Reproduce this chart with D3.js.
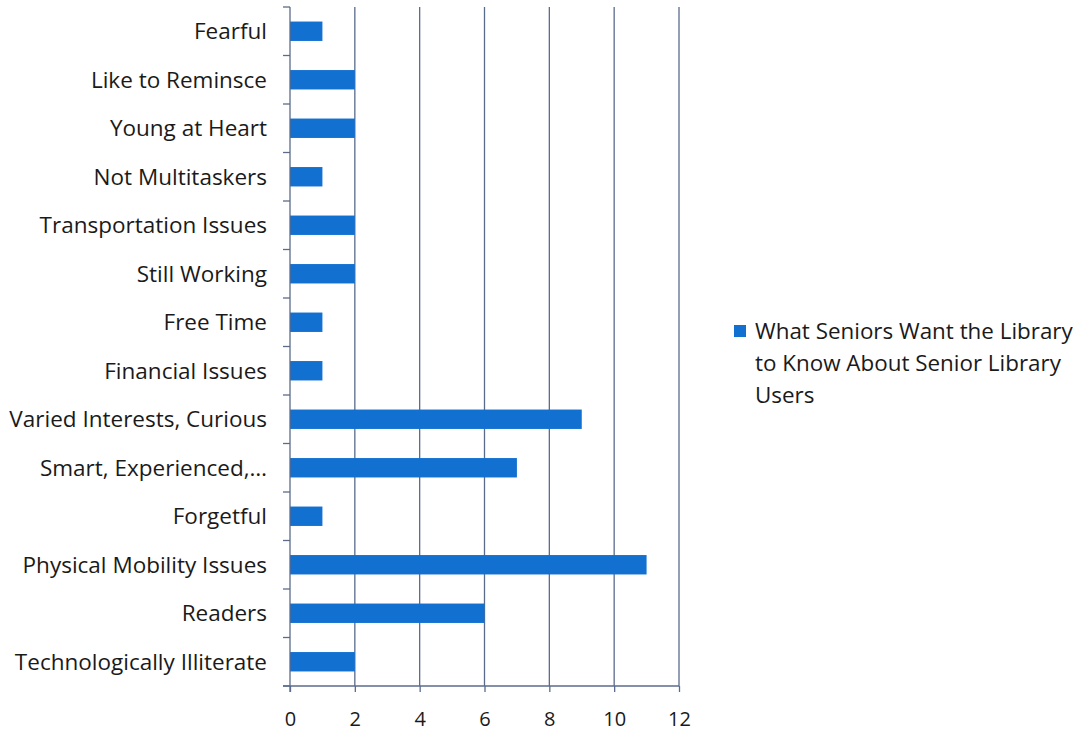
<!DOCTYPE html>
<html><head><meta charset="utf-8">
<script src="https://cdn.jsdelivr.net/npm/d3@7"></script>
<style>body{margin:0;background:#fff}svg{display:block}text{font-family:"Open Sans",sans-serif;fill:#1a1a1a}</style>
</head><body><svg id="c" width="1079" height="731"></svg>
<script>
const categories = ["Fearful","Like to Reminsce","Young at Heart","Not Multitaskers","Transportation Issues","Still Working","Free Time","Financial Issues","Varied Interests, Curious","Smart, Experienced,\u2026","Forgetful","Physical Mobility Issues","Readers","Technologically Illiterate"];
const values = [1,2,2,1,2,2,1,1,9,7,1,11,6,2];
const xTicks = [0,2,4,6,8,10,12];
const seriesName = ["What Seniors Want the Library","to Know About Senior Library","Users"];

const svg = d3.select("#c");
const m = {l:290, r:679, t:7, b:686};
const x = d3.scaleLinear().domain([0,12]).range([m.l, m.r]);
const y = d3.scaleBand().domain(categories).range([m.t, m.b]).paddingInner(0.6).paddingOuter(0.3);
const yEdge = d3.scaleLinear().domain([0, categories.length]).range([m.t, m.b]);
const grid = "#5b6b8c";

svg.append("g").selectAll("line").data(xTicks.slice(1)).join("line")
  .attr("x1", d=>x(d)).attr("x2", d=>x(d)).attr("y1", m.t).attr("y2", m.b)
  .attr("stroke", grid).attr("stroke-width", 1.3);

svg.append("g").selectAll("rect").data(values).join("rect")
  .attr("x", x(0)).attr("y", (d,i)=>y(categories[i]))
  .attr("width", d=>x(d)-x(0)).attr("height", y.bandwidth())
  .attr("fill", "#1170d0");

svg.append("line").attr("x1", m.l).attr("x2", m.l).attr("y1", m.t).attr("y2", m.b+6).attr("stroke", grid).attr("stroke-width",1.3);
svg.append("g").selectAll("line").data(d3.range(categories.length+1)).join("line")
  .attr("x1", m.l-7).attr("x2", m.l).attr("y1", d=>yEdge(d)).attr("y2", d=>yEdge(d))
  .attr("stroke", grid).attr("stroke-width",1.3);
svg.append("g").selectAll("text").data(categories).join("text")
  .attr("x", m.l-23).attr("y", d=>y(d)+y.bandwidth()/2).attr("dy","0.35em")
  .attr("text-anchor","end").attr("font-size", 22.5).text(d=>d);

const xa = svg.append("g").attr("transform", `translate(0,${m.b})`)
  .call(d3.axisBottom(x).tickValues(xTicks).tickSize(6).tickPadding(20).tickFormat(d3.format("d")));
xa.select(".domain").attr("stroke", grid).attr("stroke-width",1.3).attr("d", `M${m.l-7},0H${m.r}`);
xa.selectAll(".tick line").attr("stroke", grid).attr("stroke-width",1.3);
xa.selectAll("text").attr("font-size", 20).attr("fill","#1a1a1a").style("font-family","'Open Sans',sans-serif");

const lg = svg.append("g");
lg.append("rect").attr("x",734).attr("y",325).attr("width",12).attr("height",12).attr("fill","#1170d0");
lg.selectAll("text").data(seriesName).join("text")
  .attr("x",755).attr("y",(d,i)=>339+i*32).attr("font-size",22.4).text(d=>d);
</script></body></html>
